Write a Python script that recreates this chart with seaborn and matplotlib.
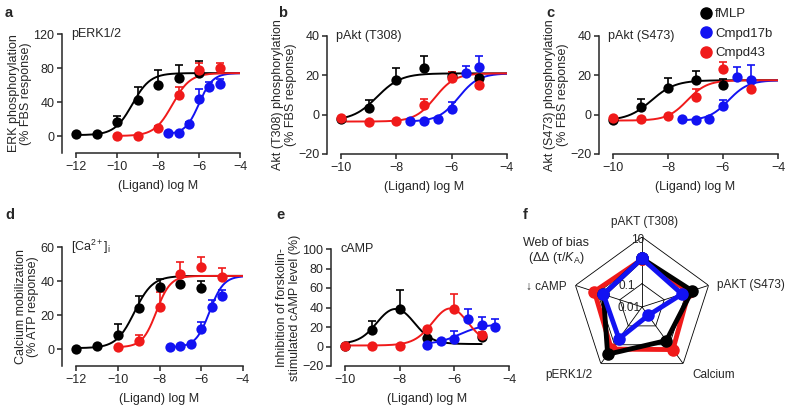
import numpy as np
import seaborn as sns
import matplotlib.pyplot as plt
from matplotlib.lines import Line2D

sns.set_style('ticks')
plt.rcParams['font.family'] = ['Liberation Sans', 'DejaVu Sans']
plt.rcParams['mathtext.fontset'] = 'custom'
plt.rcParams['mathtext.rm'] = 'Liberation Sans'
plt.rcParams['mathtext.it'] = 'Liberation Sans:italic'
plt.rcParams['axes.linewidth'] = 1.1

BLACK, BLUE, RED = '#000000', '#1212f2', '#f01a1a'
ligands = ['fMLP', 'Cmpd17b', 'Cmpd43']

# ---- a: pERK1/2 ----
erk_fmlp_x = [-12, -11, -10, -9, -8, -7, -6]
erk_fmlp_y = [2, 2, 16, 42, 60, 68, 74]
erk_fmlp_err = [0, 0, 8, 16, 18, 16, 14]
erk_17b_x = [-7.5, -7, -6.5, -6, -5.5, -5]
erk_17b_y = [3, 4, 14, 43, 58, 61]
erk_17b_err = [0, 0, 3, 12, 5, 6]
erk_43_x = [-10, -9, -8, -7, -6, -5]
erk_43_y = [0, 0, 10, 48, 78, 80]
erk_43_err = [0, 0, 2, 10, 8, 6]
# fit: bottom, top, logEC50, hill
erk_fits = [(1, 74, -9.25, 1.0), (2, 74, -6.0, 1.3), (0, 74, -7.3, 1.0)]

# ---- b: pAkt (T308) ----
t308_fmlp_x = [-10, -9, -8, -7, -6, -5]
t308_fmlp_y = [-2, 3.5, 17.5, 23.5, 19.5, 18.5]
t308_fmlp_err = [0, 4, 6, 6.5, 2, 1]
t308_17b_x = [-7.5, -7, -6.5, -6, -5.5, -5]
t308_17b_y = [-3, -3, -2, 3, 21, 24]
t308_17b_err = [0, 0, 0, 3.5, 3.5, 6]
t308_43_x = [-10, -9, -8, -7, -6, -5]
t308_43_y = [-1.5, -3.5, -3, 5, 18.5, 15]
t308_43_err = [0, 0, 0, 3, 3, 0]
t308_fits = [(-3, 21, -8.7, 1.0), (-3.5, 21, -5.75, 1.2), (-3.5, 21, -6.6, 1.2)]

# ---- c: pAkt (S473) ----
s473_fmlp_x = [-10, -9, -8, -7, -6]
s473_fmlp_y = [-2.5, 4, 13.5, 17.5, 15]
s473_fmlp_err = [0, 4, 5, 4.5, 3]
s473_17b_x = [-7.5, -7, -6.5, -6, -5.5, -5]
s473_17b_y = [-2, -2.5, -2, 4.5, 19, 17.5]
s473_17b_err = [0, 0, 0, 3, 5, 8]
s473_43_x = [-10, -9, -8, -7, -6, -5]
s473_43_y = [-1.5, -2, -0.5, 9, 23, 13]
s473_43_err = [0, 0, 0, 4, 4, 0]
s473_fits = [(-3, 17.5, -8.6, 1.0), (-3, 17.5, -5.8, 1.2), (-3, 17.5, -7.3, 1.2)]

# ---- d: calcium ----
ca_fmlp_x = [-12, -11, -10, -9, -8, -7, -6]
ca_fmlp_y = [0, 1.5, 8, 24, 36.5, 38, 36]
ca_fmlp_err = [0, 0, 6.5, 7, 4.5, 1, 4]
ca_17b_x = [-7.5, -7, -6.5, -6, -5.5, -5]
ca_17b_y = [1, 1.5, 3, 12, 25, 31]
ca_17b_err = [0, 0, 0, 4, 4, 3.5]
ca_43_x = [-10, -9, -8, -7, -6, -5]
ca_43_y = [1, 5, 24.5, 44, 48, 42.5]
ca_43_err = [0, 3, 9, 7, 6, 5]
ca_fits = [(0.5, 43, -9.2, 1.0), (1, 43, -5.6, 1.3), (1, 43, -8.15, 1.3)]

# ---- e: cAMP ----
camp_fmlp_x = [-10, -9, -8, -7, -5]
camp_fmlp_y = [1, 17, 38.5, 9, 10]
camp_fmlp_err = [0, 9, 19, 0, 0]
camp_17b_x = [-7, -6.5, -6, -5.5, -5, -4.5]
camp_17b_y = [2, 6, 7.5, 28.5, 22.5, 20.5]
camp_17b_err = [0, 0, 8.5, 10, 8, 8]
camp_43_x = [-10, -9, -8, -7, -6, -5]
camp_43_y = [1, 1, 1, 18, 38.5, 12]
camp_43_err = [0, 0, 0, 0, 15, 3]
# bell fits: bottom, top, logEC50 up, logEC50 down, hill
camp_fmlp_bell = (2.5, 49.5, -8.8, -7.5, 1.3)
camp_43_bell = (1, 57.5, -6.7, -5.6, 1.2)
camp_17b_fit = (2, 23, -5.8, 1.0)

# ---- f: web of bias ----
bias_axes = ['pAKT (T308)', 'pAKT (S473)', 'Calcium', 'pERK1/2', '\u2193 cAMP']
bias_fmlp = [1.2, 1.8, 0.6, 3.2, 0.55]
bias_17b = [1.2, 0.63, 0.028, 0.48, 0.55]
bias_43 = [1.1, 1.3, 1.8, 1.7, 1.4]
bias_rings = [10, 1, 0.1, 0.01]


def logistic(x, bottom, top, ec50, hill):
    return bottom + (top - bottom) / (1 + 10 ** (hill * (ec50 - x)))


def bell(x, bottom, top, ec1, ec2, hill):
    up = 1 / (1 + 10 ** (hill * (ec1 - x)))
    down = 1 / (1 + 10 ** (hill * (x - ec2)))
    return bottom + (top - bottom) * up * down


W, H = 788, 407
fig = plt.figure(figsize=(W / 100, H / 100), dpi=100)


def px_axes(l, r, t, b, **kw):
    return fig.add_axes([l / W, 1 - b / H, (r - l) / W, (b - t) / H], **kw)


def draw_series(ax, x, y, err, color, xs, ys):
    sns.lineplot(x=xs, y=ys, ax=ax, color=color, linewidth=1.4,
                 estimator=None, legend=False)
    ax.errorbar(x, y, yerr=[np.zeros(len(err)), err], fmt='none',
                ecolor=color, elinewidth=1.2, capsize=3, capthick=1.2,
                clip_on=False, zorder=3)
    sns.scatterplot(x=x, y=y, ax=ax, color=color, s=55, linewidth=0,
                    zorder=4, clip_on=False, legend=False)


def style(ax, xlim, ylim, xticks, yticks, ylabel, tag):
    ax.set_xlim(xlim)
    ax.set_ylim(ylim)
    ax.set_xticks(xticks)
    ax.set_yticks(yticks)
    sns.despine(ax=ax)
    ax.spines['left'].set_position(('outward', 10))
    ax.tick_params(labelsize=9, width=1.1, length=3.5, pad=2)
    ax.set_xlabel('(Ligand) log M', fontsize=9, labelpad=5)
    ax.set_ylabel(ylabel, fontsize=9, linespacing=1.05, labelpad=1)
    ax.text(-0.03, 1.0, tag, transform=ax.transAxes, fontsize=9, va='center')


def dose_panel(ax, sets, fits, xmin):
    colors = [BLACK, BLUE, RED]
    for (x, y, err), fit, c in zip(sets, fits, colors):
        xs = np.linspace(min(x) if c != BLACK else xmin, -4, 200)
        draw_series(ax, x, y, err, c, xs, logistic(xs, *fit))


ax_a = px_axes(76, 240, 34, 153)
dose_panel(ax_a, [(erk_fmlp_x, erk_fmlp_y, erk_fmlp_err),
                  (erk_17b_x, erk_17b_y, erk_17b_err),
                  (erk_43_x, erk_43_y, erk_43_err)], erk_fits, -12)
style(ax_a, (-12, -4), (-20, 120), [-12, -10, -8, -6, -4], [0, 40, 80, 120],
      'ERK phosphorylation\n(% FBS response)', 'pERK1/2')

ax_b = px_axes(341, 507, 36, 154)
dose_panel(ax_b, [(t308_fmlp_x, t308_fmlp_y, t308_fmlp_err),
                  (t308_17b_x, t308_17b_y, t308_17b_err),
                  (t308_43_x, t308_43_y, t308_43_err)], t308_fits, -10)
style(ax_b, (-10, -4), (-20, 40), [-10, -8, -6, -4], [-20, 0, 20, 40],
      'Akt (T308) phosphorylation\n(% FBS response)', 'pAkt (T308)')

ax_c = px_axes(613, 778, 36, 154)
dose_panel(ax_c, [(s473_fmlp_x, s473_fmlp_y, s473_fmlp_err),
                  (s473_17b_x, s473_17b_y, s473_17b_err),
                  (s473_43_x, s473_43_y, s473_43_err)], s473_fits, -10)
style(ax_c, (-10, -4), (-20, 40), [-10, -8, -6, -4], [-20, 0, 20, 40],
      'Akt (S473) phosphorylation\n(% FBS response)', 'pAkt (S473)')

ax_d = px_axes(76, 243, 247, 366)
dose_panel(ax_d, [(ca_fmlp_x, ca_fmlp_y, ca_fmlp_err),
                  (ca_17b_x, ca_17b_y, ca_17b_err),
                  (ca_43_x, ca_43_y, ca_43_err)], ca_fits, -12)
style(ax_d, (-12, -4), (-10, 60), [-12, -10, -8, -6, -4], [0, 20, 40, 60],
      'Calcium mobilization\n(% ATP response)', r'[Ca$^{2+}$]$_\mathrm{i}$')

ax_e = px_axes(345, 509, 249, 366)
xs = np.linspace(-10, -5, 200)
draw_series(ax_e, camp_fmlp_x, camp_fmlp_y, camp_fmlp_err, BLACK,
            xs, bell(xs, *camp_fmlp_bell))
xs = np.linspace(-7, -4.5, 200)
draw_series(ax_e, camp_17b_x, camp_17b_y, camp_17b_err, BLUE,
            xs, logistic(xs, *camp_17b_fit))
xs = np.linspace(-10, -5, 200)
draw_series(ax_e, camp_43_x, camp_43_y, camp_43_err, RED,
            xs, bell(xs, *camp_43_bell))
style(ax_e, (-10, -4), (-20, 100), [-10, -8, -6, -4], list(range(-20, 101, 20)),
      'Inhibition of forskolin-\nstimulated cAMP level (%)', 'cAMP')

# ---- radar ----
ax_f = px_axes(572, 712, 237, 377, projection='polar')
ax_f.set_theta_zero_location('N')
ax_f.set_theta_direction(-1)
ax_f.set_rscale('log')
ax_f.set_rlim(0.01, 10)
theta = np.deg2rad(np.arange(5) * 72.0)
theta_c = np.append(theta, theta[0] + 2 * np.pi)
for r in bias_rings[:-1]:
    ax_f.plot(theta_c, [r] * 6, color='k', lw=0.6, zorder=1)
for t in theta:
    ax_f.plot([t, t], [0.01, 10], color='k', lw=0.6, zorder=1)
for vals, c in zip([bias_43, bias_fmlp, bias_17b], [RED, BLACK, BLUE]):
    ax_f.plot(theta_c, vals + vals[:1], color=c, lw=3.5, marker='o', ms=8,
              zorder=3, clip_on=False)
ax_f.grid(False)
ax_f.spines['polar'].set_visible(False)
ax_f.set_xticks([])
ax_f.set_yticks([])
ax_f.set_facecolor('none')
ring_offsets = [(-3, -2.5), (-1.5, 2), (-11, -1.5), (-9, -1)]
for r, off in zip(bias_rings, ring_offsets):
    lab = '%g' % r
    ax_f.annotate(lab, (0, r), xytext=off, textcoords='offset points',
                  ha='center', va='center', fontsize=8.5, zorder=2)
lab_pos = [((1.5, 11), 'center'), ((6, 0), 'left'), ((7, -8), 'left'),
           ((-6, -8), 'right'), ((-6, -1), 'right')]
for t, name, (off, ha) in zip(theta, bias_axes, lab_pos):
    ax_f.annotate(name, (t, 10), xytext=off, textcoords='offset points',
                  ha=ha, va='center', fontsize=8.5, annotation_clip=False)
fig.text(556 / W, 1 - 243 / H, 'Web of bias', ha='center', va='center', fontsize=9)
fig.text(556 / W, 1 - 258 / H, '(\u0394\u0394 (\u03c4/$K_\\mathrm{A}$)',
         ha='center', va='center', fontsize=9)

# legend
handles = [Line2D([], [], marker='o', ls='none', color=c, markersize=8)
           for c in [BLACK, BLUE, RED]]
fig.legend(handles, ligands, loc='upper left', bbox_to_anchor=(690 / W, 1.0),
           frameon=False, fontsize=9.5, handletextpad=0.1, labelspacing=0.55,
           handlelength=1.2, borderaxespad=0.2)

# panel letters
for lab, x, y in [('a', 5, 13), ('b', 278, 13), ('c', 546, 13),
                  ('d', 5, 215), ('e', 276, 215), ('f', 523, 215)]:
    fig.text(x / W, 1 - y / H, lab, fontsize=10.5, fontweight='bold',
             ha='left', va='center')

fig.savefig('out.png', dpi=100)
